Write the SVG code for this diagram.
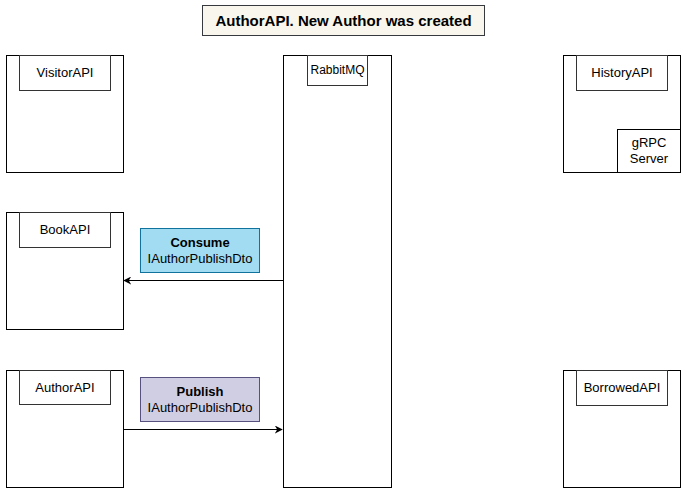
<svg xmlns="http://www.w3.org/2000/svg" width="687" height="494" viewBox="0 0 687 494">
<defs>
<marker id="arr" viewBox="0 0 10 10" refX="9" refY="5" markerWidth="8" markerHeight="8" markerUnits="userSpaceOnUse" orient="auto">
<path d="M0,0 L10,5 L0,10 L3,5 Z" fill="#000"/>
</marker>
</defs>
<style>
text{font-family:"Liberation Sans",Arial,sans-serif;font-size:13px;fill:#000;text-anchor:middle}
.outer{fill:#fff;stroke:#000;stroke-width:1}
.inner{fill:#fff;stroke:#333;stroke-width:1}
.title{font-size:15px;font-weight:bold}
.b{font-weight:bold}
.edge{stroke:#000;stroke-width:1;fill:none}
</style>
<rect width="687" height="494" fill="#fff"/>
<g id="title">
<rect x="202.5" y="5.5" width="282" height="30" fill="#f9f7ed" stroke="#36393d"/>
<text class="title" x="343.5" y="26">AuthorAPI. New Author was created</text>
</g>
<g id="visitorapi">
<rect class="outer" x="6.5" y="55.5" width="117" height="117"/>
<rect class="inner" x="19.5" y="55.5" width="91" height="35"/>
<text x="65" y="77">VisitorAPI</text>
</g>
<g id="bookapi">
<rect class="outer" x="6.5" y="212.5" width="117" height="117"/>
<rect class="inner" x="19.5" y="212.5" width="91" height="35"/>
<text x="65" y="234">BookAPI</text>
</g>
<g id="authorapi">
<rect class="outer" x="6.5" y="370.5" width="117" height="117"/>
<rect class="inner" x="19.5" y="370.5" width="91" height="34"/>
<text x="65" y="392">AuthorAPI</text>
</g>
<g id="rabbitmq">
<rect class="outer" x="283.5" y="55.5" width="108" height="432"/>
<rect class="inner" x="307.5" y="55.5" width="60" height="30"/>
<text x="337.5" y="74" style="font-size:12px">RabbitMQ</text>
</g>
<g id="historyapi">
<rect class="outer" x="563.5" y="55.5" width="117" height="117"/>
<rect class="inner" x="576.5" y="55.5" width="91" height="35"/>
<text x="622" y="77">HistoryAPI</text>
<rect class="outer" x="617.5" y="129.5" width="63" height="43"/>
<text x="649" y="147">gRPC</text>
<text x="649" y="163">Server</text>
</g>
<g id="borrowedapi">
<rect class="outer" x="563.5" y="370.5" width="117" height="117"/>
<rect class="inner" x="576.5" y="370.5" width="91" height="35"/>
<text x="622" y="392">BorrowedAPI</text>
</g>
<g id="consume-label">
<rect x="140.5" y="228.5" width="119" height="44" fill="#a1dcf2" stroke="#10739e"/>
<text class="b" x="200" y="247">Consume</text>
<text x="200" y="263">IAuthorPublishDto</text>
</g>
<g id="publish-label">
<rect x="140.5" y="377.5" width="119" height="44" fill="#d0cee2" stroke="#56517e"/>
<text class="b" x="200" y="396">Publish</text>
<text x="200" y="412">IAuthorPublishDto</text>
</g>
<g id="connectors">
<line class="edge" x1="283" y1="280.5" x2="124" y2="280.5" marker-end="url(#arr)"/>
<line class="edge" x1="124" y1="429.5" x2="282" y2="429.5" marker-end="url(#arr)"/>
</g>
</svg>
